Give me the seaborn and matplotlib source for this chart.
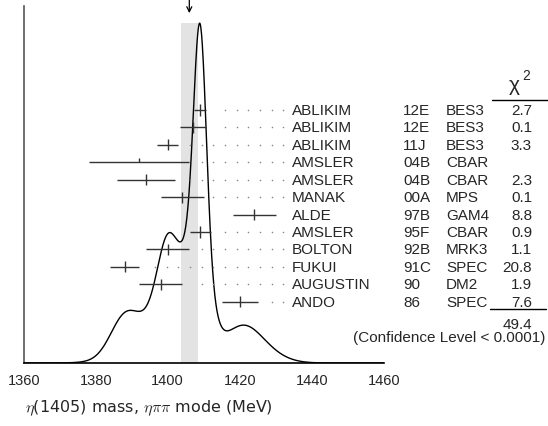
import numpy as np
import pandas as pd
import seaborn as sns
import matplotlib.pyplot as plt
import matplotlib.transforms as mtransforms

# --- DATA ---
names = ["ABLIKIM", "ABLIKIM", "ABLIKIM", "AMSLER", "AMSLER", "MANAK",
         "ALDE", "AMSLER", "BOLTON", "FUKUI", "AUGUSTIN", "ANDO"]
years = ["12E", "12E", "11J", "04B", "04B", "00A",
         "97B", "95F", "92B", "91C", "90", "86"]
experiments = ["BES3", "BES3", "BES3", "CBAR", "CBAR", "MPS",
               "GAM4", "CBAR", "MRK3", "SPEC", "DM2", "SPEC"]
masses = [1409.0, 1407.0, 1400.0, 1392.0, 1394.0, 1404.0,
          1424.0, 1409.0, 1400.0, 1388.0, 1398.0, 1420.0]
errors = [1.7, 3.5, 2.9, 14.0, 8.0, 6.0, 6.0, 2.9, 6.0, 4.0, 6.0, 5.0]
chi2 = ["2.7", "0.1", "3.3", "", "2.3", "0.1",
        "8.8", "0.9", "1.1", "20.8", "1.9", "7.6"]
chi2_total = "49.4"
confidence = "(Confidence Level < 0.0001)"
mean_mass = 1406.0
mean_err = 2.3
x_ticks = [1360, 1380, 1400, 1420, 1440, 1460]

df = pd.DataFrame({"name": names, "year": years, "exp": experiments,
                   "mass": masses, "err": errors, "chi2": chi2})
df["row"] = np.arange(len(df))
df["used"] = df["chi2"] != ""

# ideogram: each used measurement is a Gaussian with area proportional to 1/sigma
grid = np.linspace(1360, 1460, 1001)
used = df[df["used"]]
ideo = np.zeros_like(grid)
for m, s in zip(used["mass"], used["err"]):
    ideo += np.exp(-0.5 * ((grid - m) / s) ** 2) / s ** 2
curve = pd.DataFrame({"mass": grid, "density": ideo})

sns.set_theme(style="white")
plt.rcParams["font.family"] = ["Liberation Sans", "DejaVu Sans"]
plt.rcParams["mathtext.fontset"] = "cm"

W, H = 548, 427
fig = plt.figure(figsize=(W / 100, H / 100), dpi=100)
ax = fig.add_axes([23.7 / W, (H - 364) / H, 360 / W, 357 / H])

# shaded band for the average
ax.axvspan(mean_mass - mean_err, mean_mass + mean_err, ymin=0, ymax=0.952,
           color="#e3e3e3", lw=0, zorder=0)

sns.lineplot(data=curve, x="mass", y="density", color="black", lw=1.0,
             ax=ax, zorder=3)
ax.set_xlim(1360, 1460)
ax.set_ylim(0, ideo.max() / 0.952)
ax.set_xticks(x_ticks)
ax.set_yticks([])
ax.set_xlabel("")
ax.set_ylabel("")
ax.tick_params(axis="x", direction="in", length=6.5, width=1, color="#444444",
               labelsize=10.5, pad=7)
for side in ["top", "right"]:
    ax.spines[side].set_visible(False)
ax.spines["left"].set_color("#555555")
ax.spines["bottom"].set_color("black")
ax.spines["left"].set_linewidth(1.2)
ax.spines["bottom"].set_linewidth(1.2)

# arrow marking the average
trans = mtransforms.blended_transform_factory(ax.transData, ax.transAxes)
ax.annotate("", xy=(mean_mass, 0.980), xytext=(mean_mass, 1.02),
            xycoords=trans, textcoords=trans, annotation_clip=False,
            arrowprops=dict(arrowstyle="->", lw=0.9, color="black",
                            mutation_scale=9, shrinkA=0, shrinkB=0))

# overlay axes for the measurement rows
ax2 = ax.twinx()
ax2.set_ylim(14.52, -5.97)
ax2.axis("off")

bar_col = "#333333"
ax2.hlines(df["row"], df["mass"] - df["err"], df["mass"] + df["err"],
           color=bar_col, lw=1.0, zorder=4)
for _, r in df.iterrows():
    if r["used"]:
        ax2.vlines(r["mass"], r["row"] - 0.32, r["row"] + 0.32,
                   color=bar_col, lw=1.0, zorder=4)
    else:
        ax2.vlines(r["mass"], r["row"] - 0.24, r["row"],
                   color=bar_col, lw=1.0, zorder=4)

# dotted leaders
dot_step = 3.24
dot_end = 1432.1
for _, r in df.iterrows():
    start = r["mass"] + r["err"] + 2.6
    xs = np.arange(dot_end, start, -dot_step)
    ax2.scatter(xs, np.full(len(xs), r["row"]), s=1.3, color="#888888",
                lw=0, zorder=2, clip_on=False)

fs = 11
for _, r in df.iterrows():
    y = r["row"]
    ax2.text(1434.5, y, r["name"], fontsize=fs, va="center", ha="left",
             clip_on=False)
    ax2.text(1465.4, y, r["year"], fontsize=fs, va="center", ha="left",
             clip_on=False)
    ax2.text(1477.3, y, r["exp"], fontsize=fs, va="center", ha="left",
             clip_on=False)
    if r["chi2"]:
        ax2.text(1501.2, y, r["chi2"], fontsize=fs, va="center", ha="right",
                 clip_on=False)

# chi2 header
ax2.text(1496.3, -1.45, "\u03c7", fontsize=15, va="center", ha="center",
         clip_on=False)
ax2.text(1498.4, -2.0, "2", fontsize=10, va="center", ha="left",
         clip_on=False)
ax2.plot([1490.0, 1505.5], [-0.55, -0.55], color="black", lw=1.0,
         clip_on=False)
last = df["row"].max()
ax2.plot([1489.5, 1505.0], [last + 0.42, last + 0.42], color="black", lw=1.0,
         clip_on=False)
ax2.text(1501.4, last + 1.3, chi2_total, fontsize=fs, va="center", ha="right",
         clip_on=False)
ax2.text(1505.0, last + 2.05, confidence, fontsize=fs, va="center", ha="right",
         clip_on=False)

fig.text(25 / W, 1 - 408 / H, r"$\eta$(1405) mass, $\eta\pi\pi$ mode (MeV)",
         fontsize=11.5, ha="left", va="center", family="DejaVu Sans")

plt.savefig("out.png", dpi=100, facecolor="white")
plt.close()
